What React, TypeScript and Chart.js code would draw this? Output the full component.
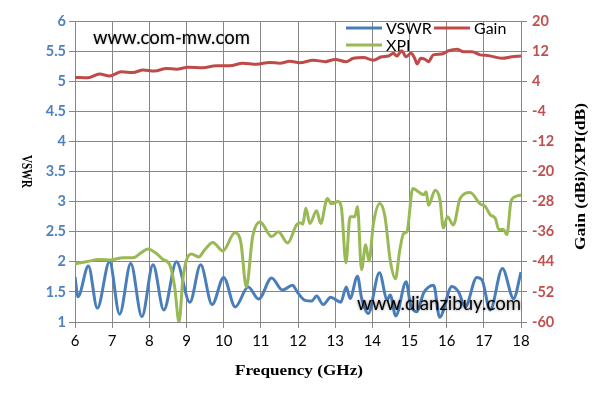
import React, { useEffect, useRef } from "react";
import { Chart, registerables } from "chart.js";

Chart.register(...registerables);

// ---------- data ----------
const vswrFreq = [
  6.0, 6.08, 6.36, 6.6, 6.93, 7.2, 7.5, 7.8, 8.1, 8.39, 8.73, 9.09, 9.38, 9.69, 10.0,
  10.31, 10.66, 10.94, 11.29, 11.58, 11.85, 12.0, 12.19, 12.37, 12.5, 12.68, 12.88,
  13.15, 13.3, 13.4, 13.6, 13.71, 13.89, 14.19, 14.4, 14.48, 14.63, 14.91, 15.02,
  15.2, 15.38, 15.65, 15.81, 16.14, 16.32, 16.5, 16.81, 16.95, 17.17, 17.5, 17.8, 18.0,
];
const vswrValues = [
  1.75, 1.42, 1.93, 1.23, 2.0, 1.13, 1.97, 1.09, 1.95, 1.2, 2.0, 1.33, 1.95, 1.29, 1.74,
  1.25, 1.58, 1.38, 1.73, 1.53, 1.61, 1.48, 1.36, 1.35, 1.43, 1.29, 1.41,
  1.33, 1.58, 1.39, 1.76, 1.4, 1.14, 1.82, 1.37, 1.45, 1.1, 1.67, 1.31,
  1.17, 1.48, 1.61, 1.08, 1.59, 1.5, 1.25, 1.74, 1.7, 1.2, 1.89, 1.39, 1.83,
];

const gainFreq = [
  6.0, 6.35, 6.66, 6.93, 7.25, 7.56, 7.83, 8.14, 8.46, 8.73, 9.04, 9.44, 9.8, 10.16,
  10.52, 10.88, 11.24, 11.51, 11.78, 12.05, 12.41, 12.73, 13.0, 13.29, 13.49, 13.76,
  14.03, 14.25, 14.43, 14.57, 14.66, 14.79, 14.91, 15.04, 15.13, 15.21, 15.3, 15.42,
  15.51, 15.64, 15.87, 16.05, 16.29, 16.45, 16.68, 16.9, 17.13, 17.49, 17.76, 18.0,
];
const gainValues = [
  5.0, 4.9, 5.9, 5.4, 6.5, 6.3, 7.0, 6.7, 7.4, 7.2, 7.7, 7.6, 8.1, 8.1,
  8.8, 8.5, 9.0, 8.8, 9.3, 8.9, 9.6, 9.2, 9.8, 9.2, 10.1, 10.3,
  9.6, 10.5, 10.7, 11.4, 10.7, 12.1, 10.5, 11.4, 10.3, 8.6, 10.1, 9.8,
  9.2, 11.0, 11.2, 12.1, 12.5, 11.8, 11.8, 11.0, 10.8, 10.1, 10.5, 10.7,
];

const xpiFreq = [
  6.0, 6.3, 6.66, 6.96, 7.29, 7.56, 7.78, 7.96, 8.19, 8.37, 8.55, 8.68, 8.8, 8.9, 9.0,
  9.13, 9.33, 9.49, 9.71, 9.98, 10.3, 10.46, 10.61, 10.78, 10.98, 11.29, 11.47, 11.72,
  11.96, 12.05, 12.13, 12.21, 12.32, 12.5, 12.61, 12.79, 12.9, 13.08, 13.17, 13.29,
  13.4, 13.53, 13.6, 13.71, 13.82, 13.91, 14.03, 14.2, 14.34, 14.48, 14.62, 14.74,
  14.84, 14.93, 15.09, 15.24, 15.38, 15.45, 15.51, 15.69, 15.82, 15.91, 16.02, 16.18,
  16.36, 16.63, 16.9, 17.04, 17.17, 17.31, 17.4, 17.53, 17.62, 17.73, 17.84, 18.0,
];
const xpiValues = [
  -44.5, -44, -43.4, -43.5, -42.9, -42.9, -41.6, -40.6, -41.8, -43.4, -44.8, -50.6, -60, -48.8, -43.5,
  -41.9, -42.7, -40.8, -38.9, -41.1, -36.3, -38.7, -50.7, -37.3, -33.4, -37.3, -36, -39,
  -34.2, -33.6, -34.0, -29.8, -33.8, -30.4, -33.8, -27.2, -28.6, -28, -29.8, -44.3,
  -32, -32, -29.3, -46.1, -39.5, -43.8, -33.8, -28.5, -32, -43.5, -48.5, -40.8,
  -36.5, -36, -24.5, -25.4, -26.2, -25.4, -29, -25, -27.5, -35, -32, -34.2,
  -27.2, -25.6, -28.6, -29.3, -31.5, -32.5, -35.4, -35.4, -36.8, -28, -26.7, -26.2,
];

const seriesLabels = ["VSWR", "Gain", "XPI"];
const xTitle = "Frequency (GHz)";
const yTitle = "VSWR";
const y2Title = "Gain (dBi)/XPI(dB)";
const watermark1 = "www.com-mw.com";
const watermark2 = "www.dianzibuy.com";

// ---------- styles ----------
const BLUE = "#4a7ebb";
const RED = "#be4b48";
const GREEN = "#98b954";
const GRID = "#878787";
const TITLE_FONT = "bold 14px 'Liberation Serif', 'DejaVu Serif', serif";

const pts = (f: number[], v: number[]) => f.map((x, i) => ({ x, y: v[i] }));

export default function App() {
  const ref = useRef<HTMLCanvasElement>(null);

  useEffect(() => {
    document.body.style.margin = "0";
    const canvas = ref.current;
    if (!canvas) return;

    const overlay = {
      id: "overlay",
      afterDraw(chart: any) {
        const ctx: CanvasRenderingContext2D = chart.ctx;
        const { left, right, top, bottom } = chart.chartArea;
        ctx.save();

        // watermarks
        const fitSize = (text: string, target: number) => {
          ctx.font = "100px Lato";
          return (100 * target) / ctx.measureText(text).width;
        };
        ctx.fillStyle = "#000";
        ctx.textBaseline = "middle";
        ctx.shadowColor = "rgba(0,0,0,0.35)";
        ctx.shadowBlur = 2;
        ctx.textAlign = "left";
        ctx.font = `${fitSize(watermark1, 157)}px Lato`;
        ctx.fillText(watermark1, left + 18, top + 17);
        ctx.shadowColor = "rgba(0,0,0,0.55)";
        ctx.shadowBlur = 3;
        ctx.textAlign = "right";
        ctx.font = `${fitSize(watermark2, 164)}px Lato`;
        ctx.fillText(watermark2, right, bottom - 18);
        ctx.shadowBlur = 0;
        ctx.shadowColor = "transparent";

        // legend
        const colors = [BLUE, RED, GREEN];
        const legendPos = [
          { x: left + 271, y: top + 7 },
          { x: left + 359, y: top + 7 },
          { x: left + 271, y: top + 24 },
        ];
        ctx.font = "16px Lato";
        ctx.textAlign = "left";
        ctx.textBaseline = "middle";
        seriesLabels.forEach((lab, i) => {
          const p = legendPos[i];
          ctx.strokeStyle = colors[i];
          ctx.lineWidth = 3;
          ctx.beginPath();
          ctx.moveTo(p.x, p.y);
          ctx.lineTo(p.x + 36, p.y);
          ctx.stroke();
          ctx.fillStyle = "#000";
          ctx.fillText(lab, p.x + 40, p.y + 1);
        });

        // axis titles (stretched to the reference's monospaced width)
        ctx.fillStyle = "#000";
        ctx.font = TITLE_FONT;
        ctx.textAlign = "center";
        ctx.textBaseline = "middle";
        const drawTitle = (text: string, x: number, y: number, rot: number, target: number) => {
          const w = ctx.measureText(text).width;
          ctx.save();
          ctx.translate(x, y);
          ctx.rotate(rot);
          ctx.scale(target / w, 1);
          ctx.fillText(text, 0, 0);
          ctx.restore();
        };
        const midY = (top + bottom) / 2;
        drawTitle(xTitle, 299, 371, 0, 128);
        drawTitle(yTitle, 26, midY, Math.PI / 2, 33);
        drawTitle(y2Title, 581, midY + 5, -Math.PI / 2, 147);

        ctx.restore();
      },
    };

    const chart = new Chart(canvas, {
      type: "line",
      data: {
        datasets: [
          {
            label: seriesLabels[0],
            data: pts(vswrFreq, vswrValues),
            borderColor: BLUE,
            yAxisID: "y",
            order: 2,
          },
          {
            label: seriesLabels[1],
            data: pts(gainFreq, gainValues),
            borderColor: RED,
            yAxisID: "y2",
            order: 1,
          },
          {
            label: seriesLabels[2],
            data: pts(xpiFreq, xpiValues),
            borderColor: GREEN,
            yAxisID: "y2",
            order: 0,
          },
        ],
      },
      options: {
        animation: false,
        responsive: false,
        maintainAspectRatio: false,
        layout: { padding: { top: 21, left: 0, right: 0, bottom: 0 } },
        elements: {
          point: { radius: 0 },
          line: { borderWidth: 3, cubicInterpolationMode: "monotone", fill: false },
        },
        plugins: {
          legend: { display: false },
          tooltip: { enabled: false },
        },
        scales: {
          x: {
            type: "linear",
            min: 6,
            max: 18,
            ticks: {
              stepSize: 1,
              color: "#000",
              font: { family: "Lato", size: 15 },
              padding: 4,
              maxRotation: 0,
            },
            grid: { color: GRID, tickLength: 6, lineWidth: 1 },
            border: { color: GRID },
            afterFit: (s: any) => {
              s.height = 82;
            },
          },
          y: {
            position: "left",
            min: 1,
            max: 6,
            ticks: {
              stepSize: 0.5,
              color: "#4f81bd",
              font: { family: "Lato", size: 14.5, weight: "bold" },
              padding: 3,
              callback: (v: any) => String(Number(v)),
            },
            grid: { color: GRID, tickLength: 6, lineWidth: 1 },
            border: { color: GRID },
            afterFit: (s: any) => {
              s.width = 75;
            },
          },
          y2: {
            position: "right",
            min: -60,
            max: 20,
            ticks: {
              stepSize: 8,
              color: "#c0504d",
              font: { family: "Lato", size: 14.5, weight: "bold" },
              padding: 5,
            },
            grid: { drawOnChartArea: false, color: GRID, tickLength: 6 },
            border: { color: GRID },
            afterFit: (s: any) => {
              s.width = 74;
            },
          },
        },
      },
      plugins: [overlay],
    } as any);

    return () => chart.destroy();
  }, []);

  return (
    <canvas
      ref={ref}
      width={595}
      height={404}
      style={{ display: "block", width: 595, height: 404 }}
    />
  );
}
